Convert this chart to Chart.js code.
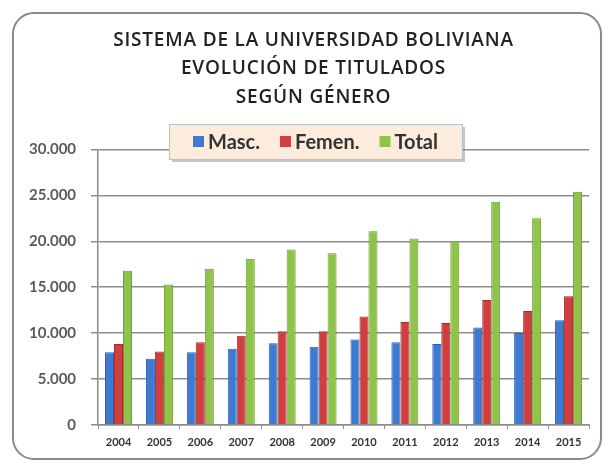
<!DOCTYPE html>
<html>
<head>
<meta charset="utf-8">
<script src="https://cdn.jsdelivr.net/npm/chart.js@4/dist/chart.umd.min.js"></script>
<style>
  html, body { margin: 0; padding: 0; background: #fff; }
  #frame {
    position: absolute; left: 12px; top: 12px; width: 586px; height: 444px;
    border: 2px solid #8a8a8a; border-radius: 22px;
  }
  #chart { position: absolute; left: 0; top: 0; }
</style>
</head>
<body>
<div id="frame"></div>
<canvas id="chart" width="609" height="468"></canvas>
<script>
const years = ['2004','2005','2006','2007','2008','2009','2010','2011','2012','2013','2014','2015'];
const masc  = [7900, 7200, 7900, 8300, 8900, 8500, 9300, 9000, 8800, 10600, 10000, 11400];
const femen = [8800, 8000, 9000, 9700, 10200, 10200, 11800, 11200, 11100, 13600, 12400, 14000];
const total = [16800, 15300, 17000, 18100, 19100, 18700, 21100, 20300, 20000, 24300, 22500, 25400];
const titleLines = ['SISTEMA DE LA UNIVERSIDAD BOLIVIANA', 'EVOLUCIÓN DE TITULADOS', 'SEGÚN GÉNERO'];

// legend box drawn over the top of the plot, like the original
const boxLegend = {
  id: 'boxLegend',
  afterLayout(chart) {
    // title in the original sits a bit right of centre and is spaced out
    const tb = chart.titleBlock;
    if (tb && !tb._spaced) {
      const orig = tb.draw.bind(tb);
      tb.draw = function () {
        const c = chart.ctx;
        c.save();
        c.translate(12, 0);
        c.letterSpacing = '0.8px';
        orig();
        c.letterSpacing = '0px';
        c.restore();
      };
      tb._spaced = true;
    }
  },
  afterDatasetsDraw(chart) {
    const ctx = chart.ctx;
    const items = chart.data.datasets;
    ctx.save();
    ctx.font = 'bold 20px Lato';
    const sq = 11, gap = 4, spacing = 20;
    let w = 0;
    items.forEach((d, i) => {
      w += sq + gap + ctx.measureText(d.label).width + (i < items.length - 1 ? spacing : 0);
    });
    const padX = 24, h = 35;
    const cx = 315, top = 124;
    const left = Math.round(cx - (w + padX * 2) / 2);
    // shadow
    ctx.fillStyle = 'rgba(120,130,140,0.45)';
    ctx.fillRect(left + 3, top + 3, w + padX * 2, h);
    ctx.fillStyle = '#fdebdc';
    ctx.fillRect(left, top, w + padX * 2, h);
    ctx.strokeStyle = '#b8c2cc';
    ctx.lineWidth = 1;
    ctx.strokeRect(left + 0.5, top + 0.5, w + padX * 2, h);
    let x = left + padX;
    const cy = top + h / 2;
    ctx.textBaseline = 'middle';
    items.forEach(d => {
      ctx.fillStyle = d.backgroundColor;
      ctx.fillRect(x, cy - sq / 2, sq, sq);
      x += sq + gap;
      ctx.fillStyle = '#333';
      ctx.fillText(d.label, x, cy + 1);
      x += ctx.measureText(d.label).width + spacing;
    });
    ctx.restore();
  }
};

const ctx = document.getElementById('chart').getContext('2d');
const myChart = new Chart(ctx, {
  type: 'bar',
  data: {
    labels: years,
    datasets: [
      { label: 'Masc.',  data: masc,  backgroundColor: '#3d7bd3', borderColor: '#2a5ea8', borderWidth: 1 },
      { label: 'Femen.', data: femen, backgroundColor: '#d03e40', borderColor: '#a52c2e', borderWidth: 1 },
      { label: 'Total',  data: total, backgroundColor: '#8ec449', borderColor: '#6c9a33', borderWidth: 1 }
    ]
  },
  options: {
    responsive: false,
    animation: false,
    layout: { padding: { left: 14, right: 20, top: 0, bottom: 12 } },
    datasets: {
      bar: { barPercentage: 1.0, categoryPercentage: 0.66 }
    },
    scales: {
      y: {
        min: 0,
        max: 30000,
        ticks: {
          stepSize: 5000,
          padding: 15,
          color: '#5a5a5a',
          font: { family: 'Lato', size: 15, weight: 'bold' },
          callback: v => v.toLocaleString('de-DE')
        },
        grid: { color: '#8c8c8c', lineWidth: 1.5, tickLength: 7 },
        border: { color: '#8c8c8c', width: 1.5 }
      },
      x: {
        ticks: {
          color: '#333',
          padding: 7,
          font: { family: 'Lato', size: 11, weight: 'bold' }
        },
        grid: { drawOnChartArea: false, color: '#8c8c8c', tickLength: 4, offset: true },
        border: { color: '#8c8c8c', width: 1.5 }
      }
    },
    plugins: {
      legend: { display: false },
      tooltip: { enabled: false },
      title: {
        display: true,
        text: titleLines,
        color: '#222',
        font: { family: 'Open Sans', size: 19, weight: '600', lineHeight: 1.5 },
        padding: { top: 26, bottom: 38 }
      }
    }
  },
  plugins: [boxLegend]
});
</script>
</body>
</html>
